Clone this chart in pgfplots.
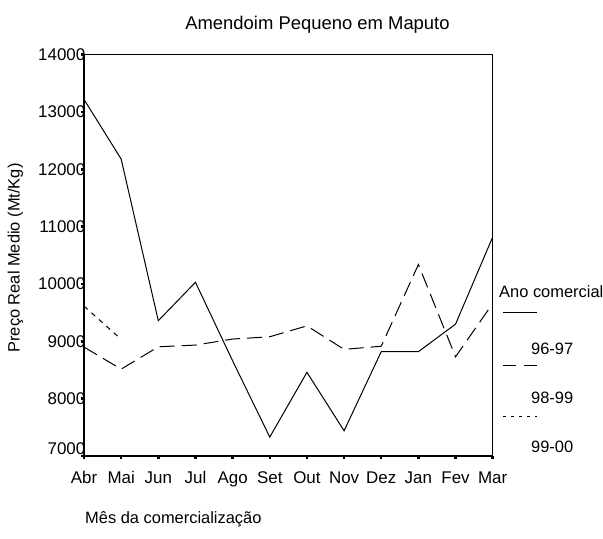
\documentclass[border=0pt]{standalone}
\usepackage{fontspec}
\setmainfont{Liberation Sans}
\usepackage{pgfplots}
\pgfplotsset{compat=1.18}

% preco real medio (Mt/Kg) por mes, Abr..Mar = 0..11
\pgfplotstableread{
x y
0 13220
1 12180
2 9360
3 10030
4 8660
5 7330
6 8460
7 7440
8 8820
9 8820
10 9300
11 10820
}\anoA
\pgfplotstableread{
x y
0 8900
1 8515
2 8905
3 8935
4 9040
5 9080
6 9270
7 8860
8 8915
9 10340
10 8730
11 9660
}\anoB
\pgfplotstableread{
x y
0 9615
1 9035
}\anoC

\begin{document}
\begin{tikzpicture}
\useasboundingbox (-84bp,-83bp) rectangle (519bp,456bp);
\begin{axis}[
    at={(0,0)}, anchor=south west,
    scale only axis, width=408.7bp, height=401.3bp,
    xmin=0, xmax=11, ymin=7000, ymax=14000,
    xtick={0,...,11},
    xticklabels={Abr,Mai,Jun,Jul,Ago,Set,Out,Nov,Dez,Jan,Fev,Mar},
    ytick={8000,9000,...,14000},
    extra y ticks={7000},
    extra y tick style={yticklabel style={yshift=7bp}},
    scaled y ticks=false,
    /pgf/number format/assume math mode=true,
    /pgf/number format/set thousands separator={},
    tick align=outside, xtick pos=bottom, ytick pos=left,
    major tick length=2.5bp,
    tick style={black, line width=2.5bp},
    axis line style={line width=1.2bp},
    ticklabel style={font=\fontsize{17}{19}\selectfont},
    yticklabel style={anchor=east, inner sep=0pt, xshift=4bp},
    xticklabel style={anchor=north, inner sep=0pt, yshift=-13bp},
]
\addplot[black, line width=1bp] table {\anoA};
\addplot[black, line width=1bp, dash pattern=on 15bp off 7bp] table {\anoB};
\addplot[black, line width=1bp, dash pattern=on 5bp off 5bp] table {\anoC};
\end{axis}
\node[font=\fontsize{18.5}{20}\selectfont, anchor=base] at (233.5bp,426.7bp) {Amendoim Pequeno em Maputo};
\node[font=\fontsize{16.5}{18}\selectfont, anchor=base west, inner sep=0pt] at (1bp,-67bp) {Mês da comercialização};
\node[font=\fontsize{16.5}{18}\selectfont, rotate=90] at (-68.5bp,198bp) {Preço Real Medio (Mt/Kg)};
% legenda
\begin{scope}[font=\fontsize{16.5}{18}\selectfont]
\node[anchor=west, inner sep=0pt] at (415bp,164bp) {Ano comercial};
\draw[line width=1bp] (419bp,143bp) -- (453bp,143bp);
\node[anchor=west, inner sep=0pt] at (447bp,107bp) {96-97};
\draw[line width=1bp, dash pattern=on 13bp off 8bp] (419bp,90bp) -- (453bp,90bp);
\node[anchor=west, inner sep=0pt] at (447bp,58.3bp) {98-99};
\draw[line width=1bp, dash pattern=on 3bp off 5bp] (419bp,39.3bp) -- (453bp,39.3bp);
\node[anchor=west, inner sep=0pt] at (447bp,9.3bp) {99-00};
\end{scope}
\end{tikzpicture}
\end{document}
